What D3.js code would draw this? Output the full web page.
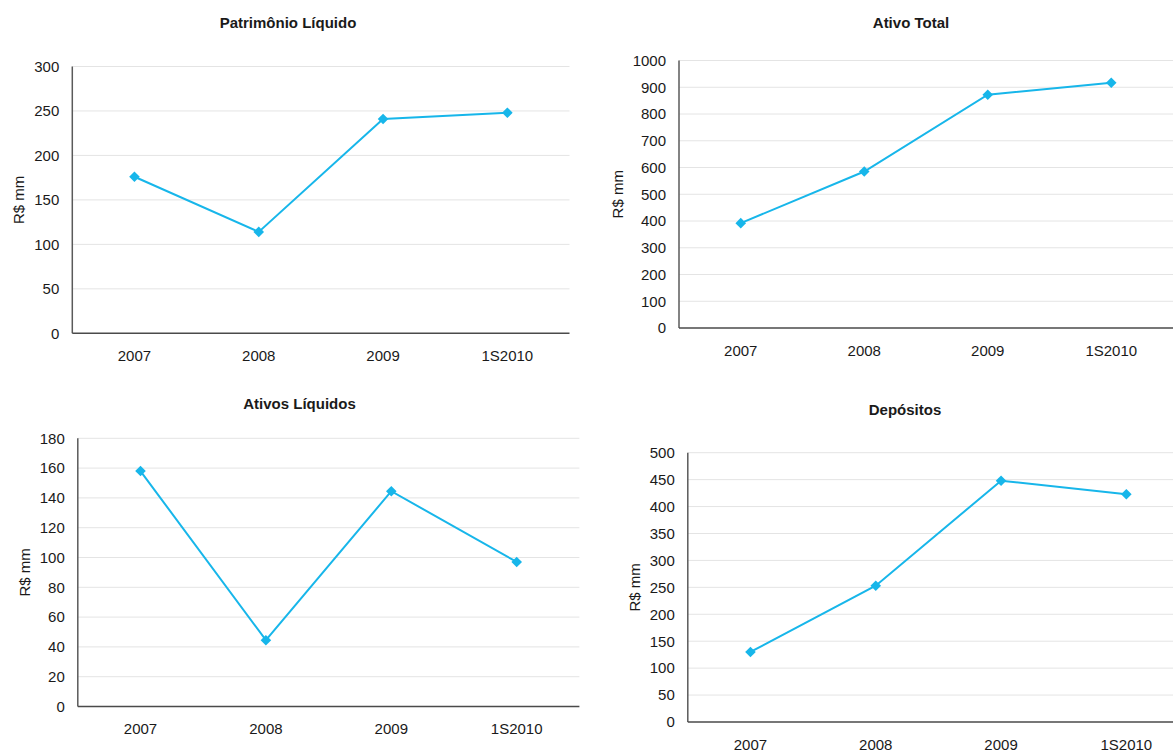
<!DOCTYPE html>
<html>
<head>
<meta charset="utf-8">
<script src="https://cdn.jsdelivr.net/npm/d3@7"></script>
<style>
  html, body { margin: 0; padding: 0; background: #fff; }
  svg { display: block; font-family: "Liberation Sans", Arial, sans-serif; }
</style>
</head>
<body>
<svg id="chart" width="1173" height="751"></svg>
<script>
// Periods shared by all four panels
const categories = ["2007", "2008", "2009", "1S2010"];

// Series values (R$ mm)
const patrimonioLiquido = [176, 114, 241, 248];
const ativoTotal = [392, 585, 872, 917];
const ativosLiquidos = [158, 44.5, 144.5, 97];
const depositos = [130, 253, 448, 423];

// Y-axis tick labels per panel
const ticksPatrimonio = [0, 50, 100, 150, 200, 250, 300];
const ticksAtivoTotal = [0, 100, 200, 300, 400, 500, 600, 700, 800, 900, 1000];
const ticksAtivosLiquidos = [0, 20, 40, 60, 80, 100, 120, 140, 160, 180];
const ticksDepositos = [0, 50, 100, 150, 200, 250, 300, 350, 400, 450, 500];

const titles = ["Patrimônio Líquido", "Ativo Total", "Ativos Líquidos", "Depósitos"];
const yTitle = "R$ mm";

// Panel frames: plot area in page pixels
const panels = [
  { title: titles[0], values: patrimonioLiquido, ticks: ticksPatrimonio,
    left: 72.3, right: 569.5, top: 66.5, bottom: 333.3, titleX: 288, titleY: 27.5, yLabelX: 18.5 },
  { title: titles[1], values: ativoTotal, ticks: ticksAtivoTotal,
    left: 679, right: 1173, top: 60.5, bottom: 328, titleX: 911, titleY: 27.5, yLabelX: 617 },
  { title: titles[2], values: ativosLiquidos, ticks: ticksAtivosLiquidos,
    left: 77.8, right: 579.4, top: 438.3, bottom: 706.5, titleX: 299.5, titleY: 408.5, yLabelX: 24 },
  { title: titles[3], values: depositos, ticks: ticksDepositos,
    left: 687.8, right: 1189, top: 452.7, bottom: 722, titleX: 905, titleY: 414.5, yLabelX: 634 }
];

const lineColor = "#17b6ea";
const textColor = "#1a1a1a";
const svg = d3.select("#chart");

panels.forEach(p => {
  const g = svg.append("g");

  const x = d3.scaleBand().domain(categories).range([p.left, p.right]).padding(0);
  const y = d3.scaleLinear().domain([0, d3.max(p.ticks)]).range([p.bottom, p.top]);
  const cx = c => x(c) + x.bandwidth() / 2;

  // Horizontal gridlines
  g.append("g")
    .selectAll("line")
    .data(p.ticks.filter(t => t > 0))
    .join("line")
    .attr("x1", p.left)
    .attr("x2", Math.min(p.right, 1173))
    .attr("y1", d => y(d))
    .attr("y2", d => y(d))
    .attr("stroke", "#e4e4e4")
    .attr("stroke-width", 1);

  // Y axis: labels only, plus a plain spine
  const yAxis = g.append("g")
    .attr("transform", `translate(${p.left},0)`)
    .call(d3.axisLeft(y).tickValues(p.ticks).tickSize(0).tickPadding(13).tickFormat(d3.format("d")));
  yAxis.select(".domain").remove();
  yAxis.selectAll("text")
    .attr("font-size", 15)
    .attr("fill", textColor)
    .attr("font-family", "Liberation Sans, Arial, sans-serif");

  g.append("line")
    .attr("x1", p.left).attr("x2", p.left)
    .attr("y1", p.top).attr("y2", p.bottom)
    .attr("stroke", "#5a5a5a").attr("stroke-width", 1.5);

  // X axis
  const xAxis = g.append("g")
    .attr("transform", `translate(0,${p.bottom})`)
    .call(d3.axisBottom(x).tickSize(0).tickPadding(17));
  xAxis.select(".domain").remove();
  xAxis.selectAll("text")
    .attr("font-size", 15)
    .attr("fill", textColor)
    .attr("font-family", "Liberation Sans, Arial, sans-serif");

  g.append("line")
    .attr("x1", p.left).attr("x2", Math.min(p.right, 1173))
    .attr("y1", p.bottom).attr("y2", p.bottom)
    .attr("stroke", "#4a4a4a").attr("stroke-width", 1.5);

  // Series line
  const data = categories.map((c, i) => ({ c, v: p.values[i] }));
  g.append("path")
    .datum(data)
    .attr("fill", "none")
    .attr("stroke", lineColor)
    .attr("stroke-width", 2)
    .attr("d", d3.line().x(d => cx(d.c)).y(d => y(d.v)));

  // Diamond markers
  g.selectAll(".marker")
    .data(data)
    .join("path")
    .attr("class", "marker")
    .attr("d", d3.symbol(d3.symbolSquare, 56)())
    .attr("transform", d => `translate(${cx(d.c)},${y(d.v)}) rotate(45)`)
    .attr("fill", lineColor);

  // Panel title
  g.append("text")
    .attr("x", p.titleX)
    .attr("y", p.titleY)
    .attr("text-anchor", "middle")
    .attr("font-size", 15)
    .attr("font-weight", "bold")
    .attr("fill", textColor)
    .text(p.title);

  // Y axis title
  const midY = (p.top + p.bottom) / 2;
  g.append("text")
    .attr("transform", `translate(${p.yLabelX},${midY}) rotate(-90)`)
    .attr("text-anchor", "middle")
    .attr("dominant-baseline", "central")
    .attr("font-size", 15)
    .attr("fill", textColor)
    .text(yTitle);
});
</script>
</body>
</html>
